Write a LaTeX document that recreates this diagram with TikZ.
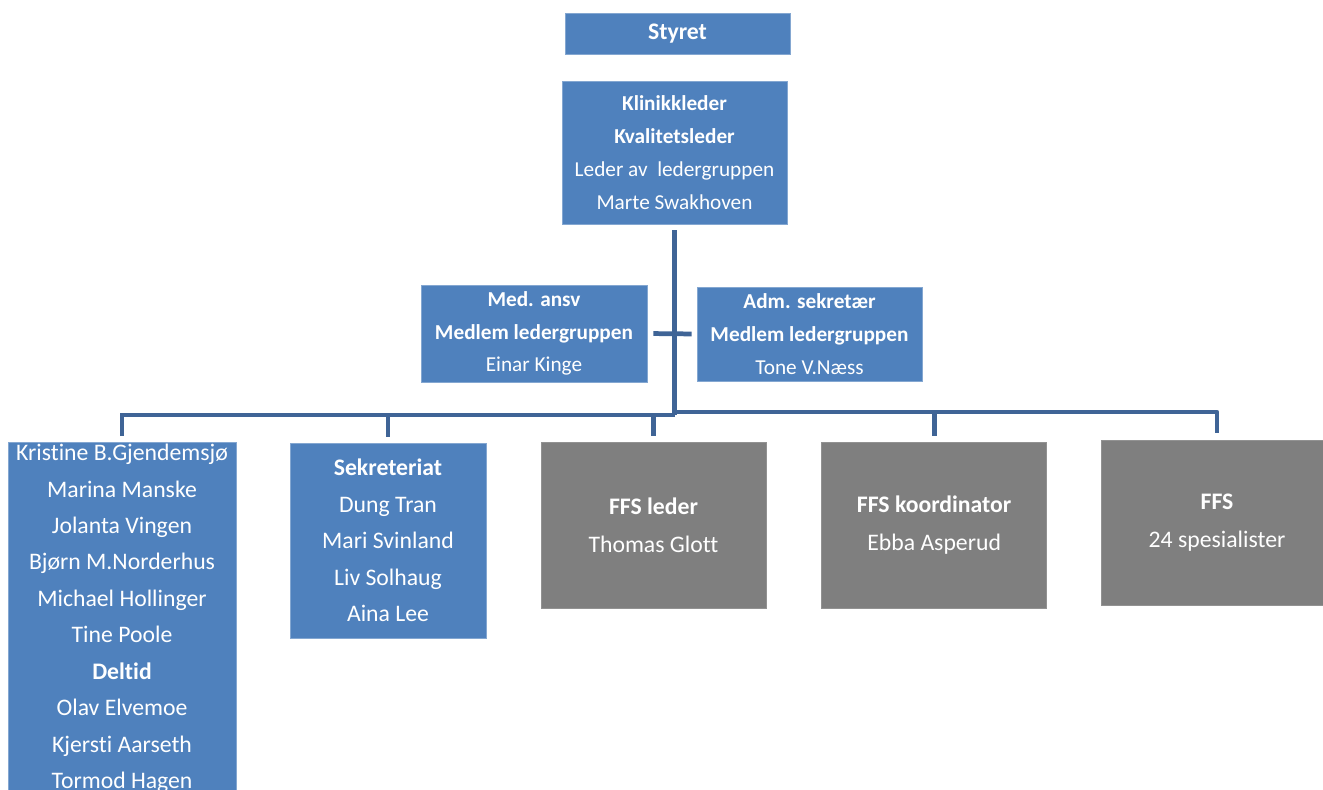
\documentclass[tikz,border=0pt]{standalone}
\usepackage{fontspec}
\setmainfont{Carlito}[Ligatures=NoCommon]
\usetikzlibrary{positioning,calc}
\definecolor{boxblue}{RGB}{79,129,189}
\definecolor{boxgray}{RGB}{127,127,127}
\definecolor{linkblue}{RGB}{63,100,150}
\tikzset{
  unit/.style={fill=boxblue, draw=boxblue!70!white, line width=0.4pt, text=white,
    align=center, inner sep=0pt, font=\fontsize{12.1pt}{18.7pt}\selectfont},
  listunit/.style={unit, font=\fontsize{13.5pt}{20.75pt}\selectfont},
  ffsunit/.style={unit, fill=boxgray, draw=boxgray!85!white,
    font=\fontsize{13.5pt}{21.5pt}\selectfont},
  link/.style={linkblue, line width=2.7pt}
}
\begin{document}
\begin{tikzpicture}[x=0.02cm, y=-0.02cm]
  \useasboundingbox (0,0) rectangle (1323,789);
  \node (styret) [listunit, minimum width=4.5cm, minimum height=0.82cm] at (677.5,33.5)
    {\textbf{Styret}};
  \node (lead) [unit, minimum width=4.5cm, minimum height=2.86cm] at (674.5,152.5)
    {\textbf{Klinikkleder}\\ \textbf{Kvalitetsleder}\\ Leder av\ \ ledergruppen\\ Marte Swakhoven};
  \node (med) [unit, minimum width=4.52cm, minimum height=1.94cm] at (534,333.5)
    {\textbf{Med. ansv}\\ \textbf{Medlem ledergruppen}\\ Einar Kinge};
  \node (adm) [unit, minimum width=4.5cm, minimum height=1.88cm] at (809.5,334)
    {\textbf{Adm. sekretær}\\ \textbf{Medlem ledergruppen}\\ Tone V.Næss};
  % Bottom row
  \node (staff) [listunit, anchor=north, minimum width=4.56cm, inner ysep=1pt] at (122,442)
    {Kristine B.Gjendemsjø\\ Marina Manske\\ Jolanta Vingen\\ Bjørn M.Norderhus\\
     Michael Hollinger\\ Tine Poole\\ \textbf{Deltid}\\ Olav Elvemoe\\ Kjersti Aarseth\\
     Tormod Hagen\\ \strut};
  \node (secr) [listunit, minimum width=3.92cm, minimum height=3.9cm] at (388,540.5)
    {\textbf{Sekreteriat}\\ Dung Tran\\ Mari Svinland\\ Liv Solhaug\\ Aina Lee};
  \node (ffslead) [ffsunit, minimum width=4.5cm, minimum height=3.32cm] at (653.5,525)
    {\textbf{FFS leder}\\ Thomas Glott};
  \node (ffskoord) [ffsunit, minimum width=4.5cm, minimum height=3.32cm, right = 1.1cm of ffslead]
    {\textbf{FFS koordinator}\\ Ebba Asperud};
  \node (ffs) [ffsunit, minimum width=4.64cm, minimum height=3.3cm] at (1217,522.5)
    {\textbf{FFS}\\ 24 spesialister};
  % Draw connectors
  \coordinate (hub) at (674.5,415);
  \coordinate (hubR) at (674.5,412);
  \draw[link, shorten <=0.12cm] (lead.south) -- (hub);
  \draw[link, shorten <=0.12cm, shorten >=0.1cm] (med.east) -- (adm.west);
  \draw[link, shorten <=0.12cm] (staff.north) |- (hub);
  \draw[link, shorten <=0.12cm] (secr.north) |- (hub);
  \draw[link, shorten <=0.12cm] (ffslead.north) |- (hub);
  \draw[link, shorten <=0.12cm] (ffskoord.north) |- (hubR);
  \draw[link, shorten <=0.14cm, line join=round] (ffs.north) |- (hubR);
\end{tikzpicture}
\end{document}
